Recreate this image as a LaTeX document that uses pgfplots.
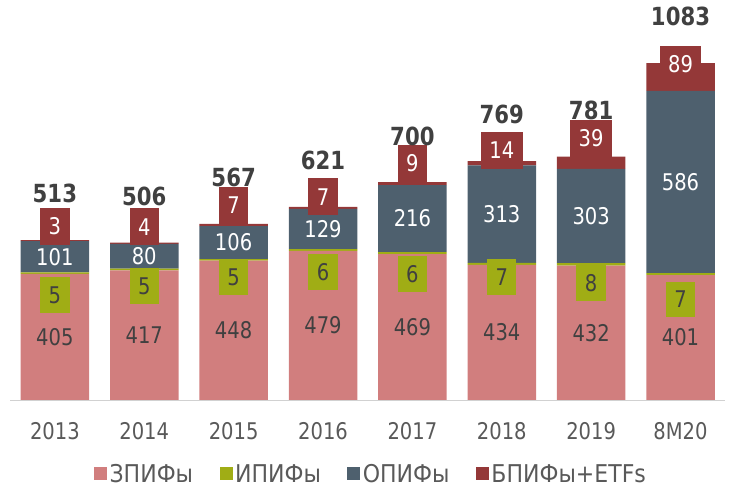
\documentclass[border=0pt]{standalone}
\usepackage{fontspec}
\setmainfont{DejaVu Sans}[FakeStretch=0.85]
\newfontfamily\legfont{DejaVu Sans}[FakeStretch=0.9]
\usepackage{pgfplots}
\usepackage{pgfplotstable}
\pgfplotsset{compat=1.18}

\definecolor{czpif}{HTML}{D17E7E}
\definecolor{cipif}{HTML}{A0AD15}
\definecolor{copif}{HTML}{4E606E}
\definecolor{cbpif}{HTML}{943838}
\definecolor{txtdark}{HTML}{404040}
\definecolor{txtgray}{HTML}{595959}

\newcommand\lblfont{\fontsize{23}{27}\selectfont}

% bdy / gdy: hand offsets of the boxed labels (pt)
\pgfplotstableread{
x  z    i  o    b   tot   bdy    gdy
0  405  5  101  3   513   -5     -4.5
1  417  5  80   4   506   -3     0.7
2  448  5  106  7   567   0      0
3  479  6  129  7   621   -8.5   -4.5
4  469  6  216  9   700   0      -4
5  434  7  313  14  769   -7.7   4
6  432  8  303  39  781   0      -1.5
7  401  7  586  89  1083  -19.7  -8.3
}\funds

\pgfplotsset{
  frame/.style={
    at={(0,0)}, anchor=south west,
    scale only axis, width=716pt, height=400.5pt,
    xmin=-0.5, xmax=7.5, ymin=0, ymax=1286,
    clip=false,
  },
  lbl/.style={draw=none, mark=none, nodes near coords, point meta=explicit symbolic},
}

\begin{document}
\begin{tikzpicture}
\useasboundingbox (-10.2pt,-88.5pt) rectangle (725.8pt,400.5pt);
\begin{axis}[
  frame,
  ybar stacked, bar width=68.6pt,
  axis y line=none,
  axis x line=bottom,
  x axis line style={-, draw=black!18, line width=0.9pt},
  xtick={0,...,7},
  xticklabels={2013,2014,2015,2016,2017,2018,2019,8M20},
  major tick length=0pt,
  xticklabel style={font=\lblfont, text=txtgray, inner sep=0pt, anchor=north, yshift=-22.5pt},
  legend style={at={(0.505,-0.1848)}, anchor=center, draw=none, fill=none,
    legend columns=-1, font=\legfont\fontsize{24.5}{28}\selectfont, text=txtgray,
    nodes={inner xsep=2.5pt, inner ysep=0pt, text depth=0pt},
    /tikz/every even column/.append style={column sep=24pt}},
  legend image code/.code={\fill[#1] (0pt,-6.5pt) rectangle (13pt,6.5pt);},
]
\addplot[fill=czpif, draw=none] table[x=x, y=z] {\funds};
\addplot[fill=cipif, draw=none] table[x=x, y=i] {\funds};
\addplot[fill=copif, draw=none] table[x=x, y=o] {\funds};
\addplot[fill=cbpif, draw=none] table[x=x, y=b] {\funds};
\legend{ЗПИФы, ИПИФы, ОПИФы, БПИФы+ETFs}
\end{axis}

% value labels, same frame, not stacked
\begin{axis}[frame, hide axis]
\addplot[lbl, every node near coord/.style={font=\lblfont, text=txtdark, anchor=center}]
  table[x=x, y expr=\thisrow{z}/2, meta=z] {\funds};
\addplot[lbl, every node near coord/.style={font=\lblfont, text=white, anchor=center}]
  table[x=x, y expr=\thisrow{z}+\thisrow{i}+\thisrow{o}/2, meta=o] {\funds};
\addplot[lbl, visualization depends on={\thisrow{gdy} \as \gdy},
  every node near coord/.style={font=\lblfont, text=txtdark, fill=cipif,
    anchor=north, inner xsep=8.5pt, inner ysep=0pt, minimum height=36pt,
    yshift=\gdy pt}]
  table[x=x, y expr=\thisrow{z}+\thisrow{i}, meta=i] {\funds};
\addplot[lbl, visualization depends on={\thisrow{bdy} \as \bdy},
  every node near coord/.style={font=\lblfont, text=white, fill=cbpif,
    anchor=south, inner xsep=8.5pt, inner ysep=0pt, minimum height=37pt,
    yshift=\bdy pt}]
  table[x=x, y expr=\thisrow{z}+\thisrow{i}+\thisrow{o}+\thisrow{b}, meta=b] {\funds};
\addplot[lbl, every node near coord/.style={font=\fontsize{25}{29}\selectfont\bfseries,
    text=txtdark, anchor=south, inner sep=0pt, text depth=0pt, yshift=37pt}]
  table[x=x, y expr=\thisrow{z}+\thisrow{i}+\thisrow{o}+\thisrow{b}, meta=tot] {\funds};
\end{axis}
\end{tikzpicture}
\end{document}
